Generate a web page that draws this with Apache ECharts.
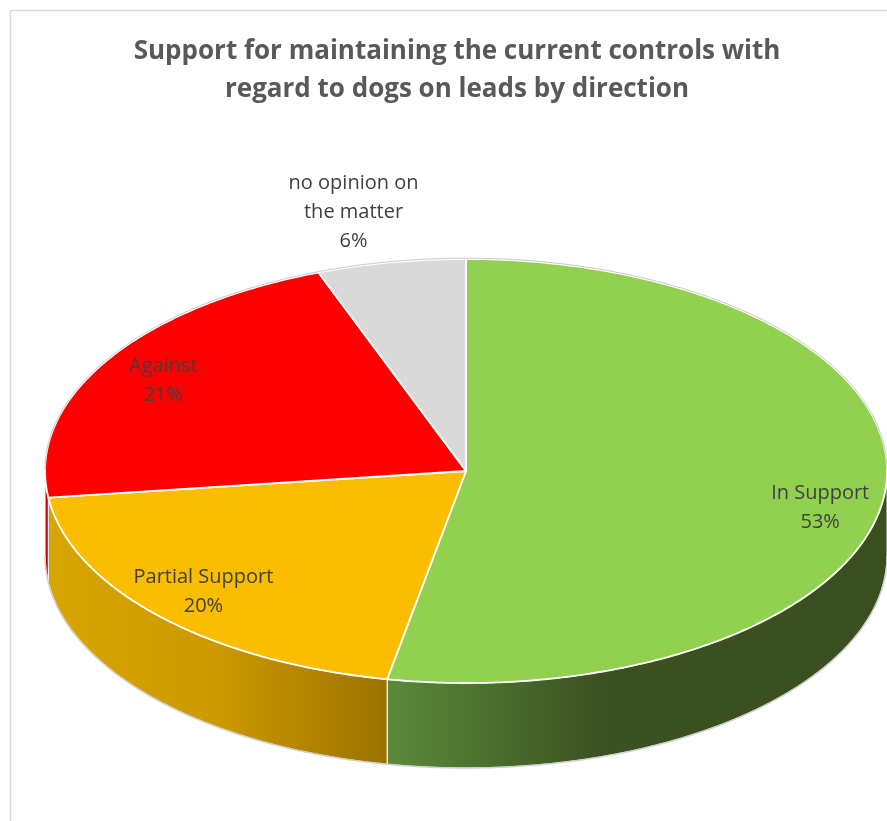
<!DOCTYPE html>
<html><head><meta charset="utf-8">
<script src="https://cdn.jsdelivr.net/npm/echarts@6/dist/echarts.min.js"></script>
<style>html,body{margin:0;padding:0;background:#fff;}#c{width:887px;height:821px;}</style>
</head><body><div id="c"></div>
<script>
const titleText = 'Support for maintaining the current controls with\nregard to dogs on leads by direction';
const categories = ['In Support', 'Partial Support', 'Against', 'no opinion on\nthe matter'];
const values = [53.0, 20.0, 21.3, 5.7];

const topColors = ['#92D050', '#FABD00', '#FF0000', '#D9D9D9'];
const sideStops = [
  [[0, '#5B8A3A'], [0.43, '#3B5121'], [1, '#3A4F20']],
  [[0, '#D8A600'], [0.5, '#CC9900'], [1, '#9C7200']],
  [[0, '#D40000'], [1, '#C00000']],
  [[0, '#A6A6A6'], [1, '#8C8C8C']]
];
const labelPlace = [[0.845, 0.84, 0, 20], [0.81, 0.82, -14, 2], [0.84, 0.82, 0, 0], [1.5, 1.24, 0, 0]];

const total = values.reduce((a, b) => a + b, 0);
const starts = [];
let acc = 0;
values.forEach(v => { starts.push(acc); acc += v; });

const chart = echarts.init(document.getElementById('c'), null, {renderer: 'canvas'});

function renderItem(params, api) {
  const i = params.dataIndex;
  const v = api.value(0);
  const W = api.getWidth(), H = api.getHeight();
  const cx = W * 0.5254, cy = H * 0.5737;
  const rx = 421, ry = 212, depth = 85;
  const a1 = starts[i] / total * 360, a2 = (starts[i] + v) / total * 360;
  const rad = d => d * Math.PI / 180;
  const pt = (a, off) => [cx + rx * Math.sin(rad(a)), cy - ry * Math.cos(rad(a)) + (off || 0)];
  const arc = (s, e, off) => {
    const pts = [];
    const n = Math.max(2, Math.ceil(Math.abs(e - s) / 0.5));
    for (let k = 0; k <= n; k++) pts.push(pt(s + (e - s) * k / n, off));
    return pts;
  };
  const children = [];
  // side wall
  const s = Math.max(a1, 90), e = Math.min(a2, 270);
  if (e > s) {
    const top = arc(s, e, 0);
    const bot = arc(e, s, depth);
    const xa = pt(s)[0], xb = pt(e)[0];
    const xl = Math.min(xa, xb), xr = Math.max(xa, xb);
    children.push({
      type: 'polygon', z2: 1,
      shape: {points: top.concat(bot)},
      style: {
        fill: {type: 'linear', x: xl, y: 0, x2: xr, y2: 0, global: true,
          colorStops: sideStops[i].map(st => ({offset: st[0], color: st[1]}))},
        stroke: 'rgba(255,255,255,0.85)', lineWidth: 1.2
      }
    });
    children.push({
      type: 'polyline', z2: 2,
      shape: {points: arc(s, e, depth)},
      style: {stroke: '#d0d0d0', lineWidth: 1.5, fill: null}
    });
  }
  // top face
  children.push({
    type: 'polygon', z2: 10,
    shape: {points: [[cx, cy]].concat(arc(a1, a2, 0))},
    style: {fill: topColors[i], stroke: '#ffffff', lineWidth: 1.8, lineJoin: 'round'}
  });
  // back rim (subtle grey edge on the far side)
  const bs = Math.max(a1, 270), be = a2;
  const fs = a1, fe = Math.min(a2, 90);
  [[bs, be], [fs, fe]].forEach(r => {
    if (r[1] > r[0]) {
      children.push({
        type: 'polyline', z2: 11,
        shape: {points: arc(r[0], r[1], -0.8)},
        style: {stroke: '#c8c8c8', lineWidth: 1, fill: null}
      });
    }
  });
  // label
  const mid = (a1 + a2) / 2;
  const lp = labelPlace[i];
  const lx = cx + rx * lp[0] * Math.sin(rad(mid)) + lp[2];
  const ly = cy - ry * lp[1] * Math.cos(rad(mid)) + lp[3];
  children.push({
    type: 'text', z2: 30,
    x: lx, y: ly,
    style: {
      text: categories[i] + '\n' + Math.round(v / total * 100) + '%',
      fill: '#404040', font: '20px "Open Sans"', align: 'center', verticalAlign: 'middle',
      lineHeight: 29
    }
  });
  return {type: 'group', children: children};
}

chart.setOption({
  animation: false,
  backgroundColor: '#ffffff',
  title: {
    text: titleText, left: 452, top: 28, textAlign: 'center',
    textStyle: {fontFamily: 'Open Sans', fontSize: 26, fontWeight: 'bold', color: '#595959', lineHeight: 38}
  },
  graphic: [{
    type: 'rect', left: 8, top: 8, z: -1,
    shape: {width: 920, height: 860},
    style: {fill: null, stroke: '#d9d9d9', lineWidth: 1.5}
  }],
  series: [{
    type: 'custom', coordinateSystem: 'none',
    renderItem: renderItem,
    data: values.map((v, i) => ({value: [v], name: categories[i]}))
  }]
});
</script></body></html>
